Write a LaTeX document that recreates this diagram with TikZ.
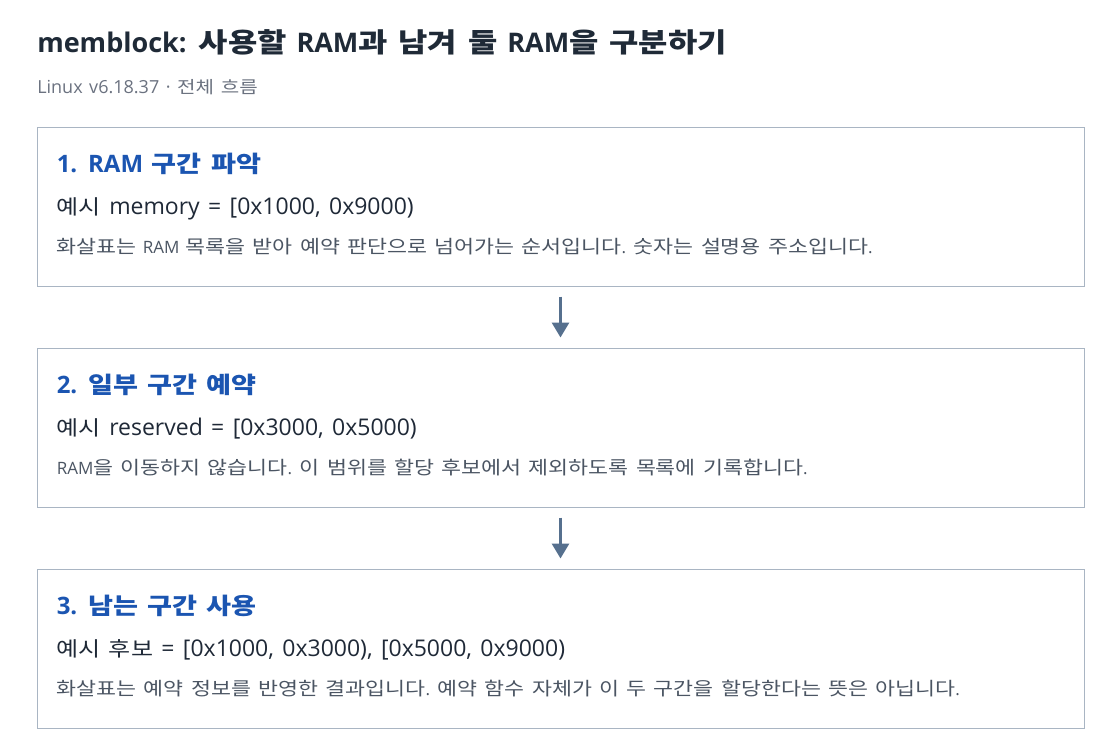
\documentclass[tikz,border=0pt]{standalone}
\usepackage{fontspec}
\setmainfont{Open Sans}[WordSpace=1.4]
\newfontfamily\krfamily{Noto Sans CJK KR}[FakeStretch=1.18, WordSpace=1.5]
\usepackage{xcolor}
\usetikzlibrary{arrows.meta,positioning}

\definecolor{titleink}{HTML}{1F2A37}
\definecolor{subink}{HTML}{6B7280}
\definecolor{headink}{HTML}{1B55B1}
\definecolor{bodyink}{HTML}{1F2937}
\definecolor{noteink}{HTML}{4B5563}
\definecolor{frameink}{HTML}{A9B5C3}
\definecolor{flowink}{HTML}{56708E}

% hangul runs, sized by the style in force
\def\krsize{12pt}
\newcommand\kr[1]{{\fontsize{\krsize}{\krsize}\krfamily\selectfont #1}}

\tikzset{
	stagebox/.style={draw=frameink, line width=0.75pt, inner sep=0pt,
		minimum width=785.25pt, minimum height=119.25pt},
	stagehead/.style={anchor=base west, inner sep=0pt, text=headink,
		font=\fontsize{18pt}{21pt}\selectfont\bfseries\def\krsize{17.25pt}},
	stageeg/.style={anchor=base west, inner sep=0pt, text=bodyink,
		font=\fontsize{17.25pt}{20pt}\selectfont\def\krsize{15.25pt}},
	stagenote/.style={anchor=base west, inner sep=0pt, text=noteink,
		font=\fontsize{12.75pt}{15pt}\selectfont\def\krsize{13.8pt}},
	flowarrow/.style={draw=flowink, line width=2.25pt,
		-{Triangle[length=11.25pt,width=12.75pt]},
		shorten <=7.5pt, shorten >=7.5pt}
}

\begin{document}
\begin{tikzpicture}[x=0.75pt, y=-0.75pt, node distance=45.75pt]
	\fill[white] (0,0) rectangle (1120,754);
	\useasboundingbox (0,0) rectangle (1120,754);

	% title
	\node[anchor=base west, inner sep=0pt, text=titleink,
		font=\fontsize{20.25pt}{24pt}\selectfont\bfseries\def\krsize{20.25pt}] (title) at (37,52)
		{memblock: \kr{사용할} RAM\kr{과 남겨 둘} RAM\kr{을 구분하기}};
	\node[anchor=base west, inner sep=0pt, text=subink,
		font=\fontsize{13.5pt}{16pt}\selectfont\def\krsize{12.75pt}] (subtitle) at (37,93)
		{Linux v6.18.37 · \kr{전체 흐름}};

	% stages
	\node[stagebox] (box1) at (560.5,206.5) {};
	\node[stagebox, below=of box1] (box2) {};
	\node[stagebox, below=of box2] (box3) {};

	\node[stagehead] (head1) at ([shift={(20,46)}]box1.north west) {1. RAM \kr{구간 파악}};
	\node[stageeg] (eg1) at ([shift={(0,42)}]head1.base west) {\kr{예시} memory = [0x1000, 0x9000)};
	\node[stagenote] (note1) at ([shift={(0,39)}]eg1.base west)
		{\kr{화살표는} RAM \kr{목록을 받아 예약 판단으로 넘어가는 순서입니다}. \kr{숫자는 설명용 주소입니다}.};

	\node[stagehead] (head2) at ([shift={(20,46)}]box2.north west) {2. \kr{일부 구간 예약}};
	\node[stageeg] (eg2) at ([shift={(0,42)}]head2.base west) {\kr{예시} reserved = [0x3000, 0x5000)};
	\node[stagenote] (note2) at ([shift={(0,39)}]eg2.base west)
		{RAM\kr{을 이동하지 않습니다}. \kr{이 범위를 할당 후보에서 제외하도록 목록에 기록합니다}.};

	\node[stagehead] (head3) at ([shift={(20,46)}]box3.north west) {3. \kr{남는 구간 사용}};
	\node[stageeg] (eg3) at ([shift={(0,42)}]head3.base west) {\kr{예시 후보} = [0x1000, 0x3000), [0x5000, 0x9000)};
	\node[stagenote] (note3) at ([shift={(0,39)}]eg3.base west)
		{\kr{화살표는 예약 정보를 반영한 결과입니다}. \kr{예약 함수 자체가 이 두 구간을 할당한다는 뜻은 아닙니다}.};

	% flow
	\draw[flowarrow] (box1.south) -- (box2.north);
	\draw[flowarrow] (box2.south) -- (box3.north);
\end{tikzpicture}
\end{document}
